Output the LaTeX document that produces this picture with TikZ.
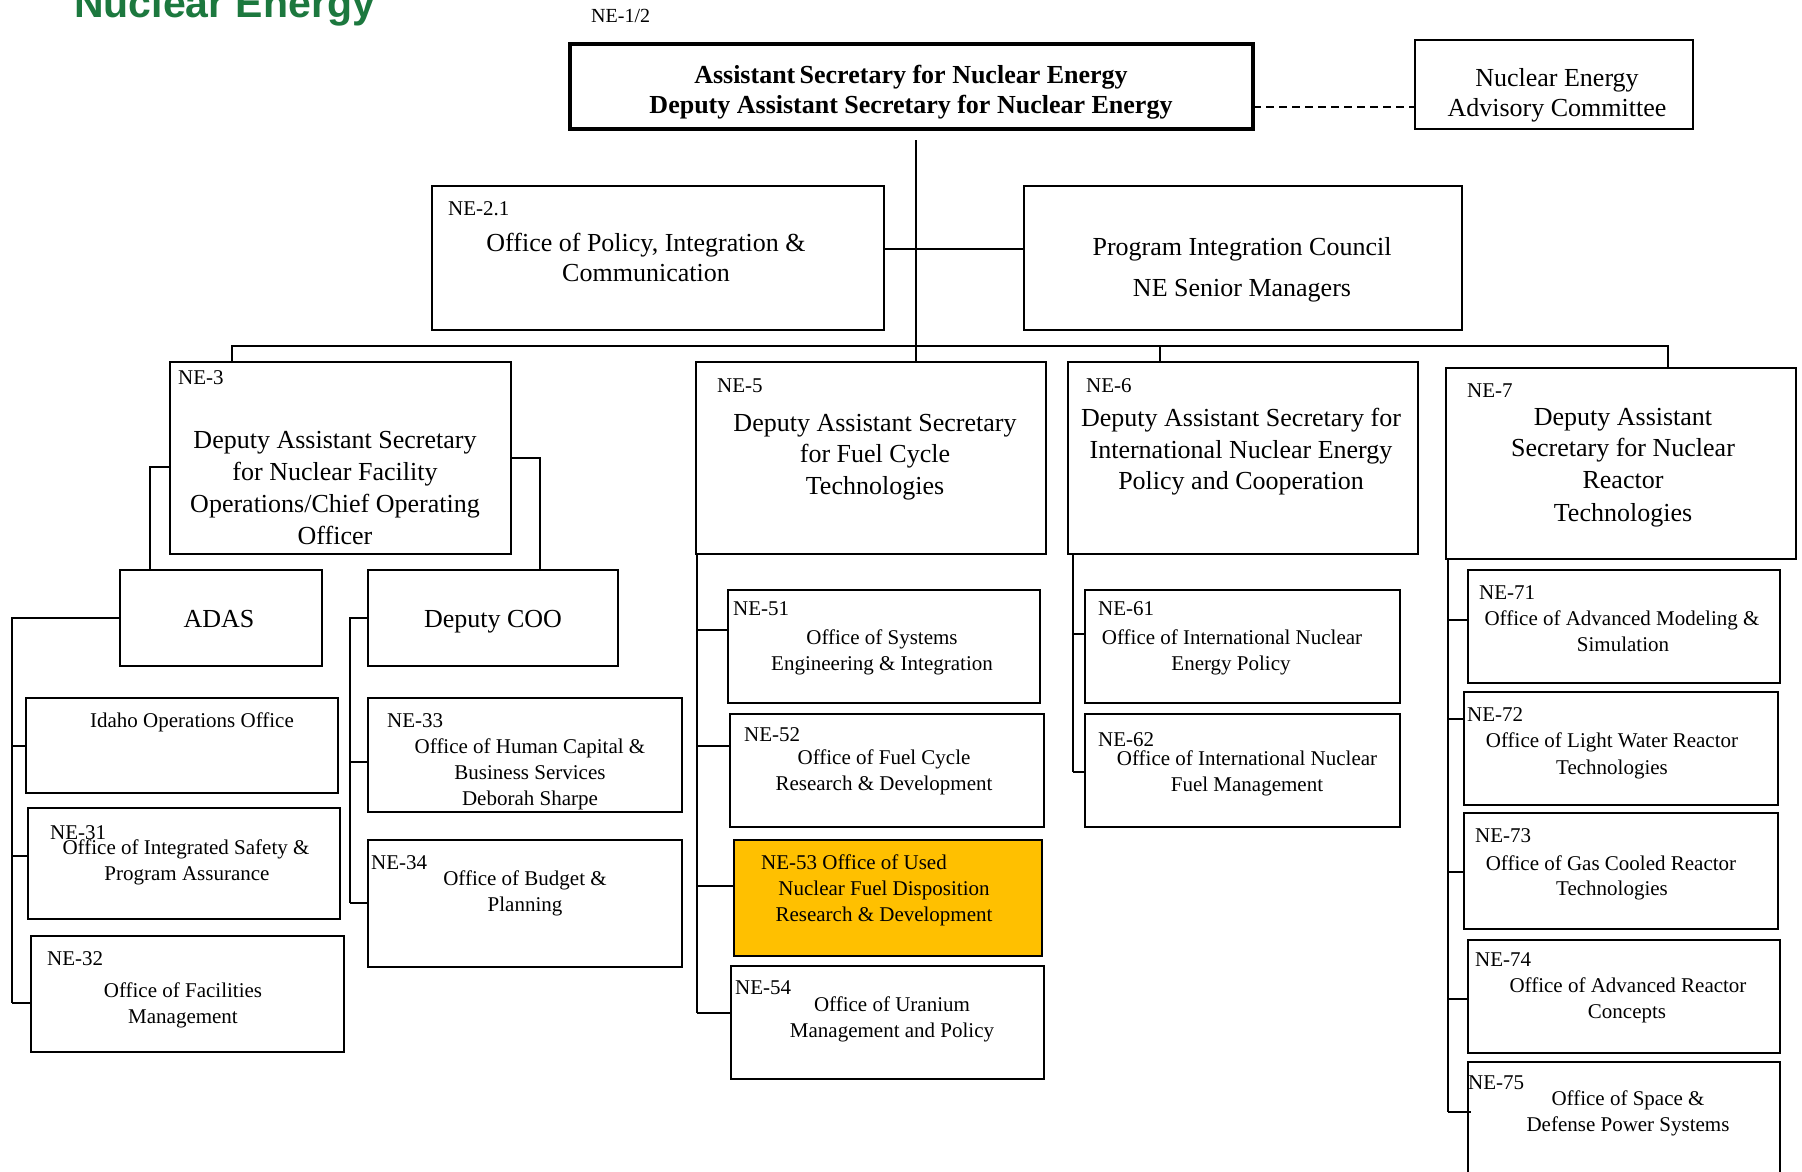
\documentclass[tikz,border=0pt]{standalone}
\usepackage{fontspec}
\setmainfont{Liberation Serif}
\newfontfamily\titlefont{Liberation Sans}
\definecolor{doegreen}{RGB}{28,120,62}
\definecolor{hilite}{RGB}{255,192,0}
\newcounter{tnum}
\newcommand\obox[6][]{\node[obx,#1,minimum width={(#5-#3)*1pt},minimum height={(#6-#4)*1pt}] (#2) at ({(#3+#5)/2},{(#4+#6)/2}) {};}
\newcommand\tcen[4][]{\stepcounter{tnum}\node[txt,#1,anchor=base] (t\arabic{tnum}) at (#2,#3) {#4};}
\newcommand\tlft[4][]{\stepcounter{tnum}\node[txt,#1,anchor=base west] (t\arabic{tnum}) at (#2,#3) {#4};}
\begin{document}
\begin{tikzpicture}[x=1pt,y=-1pt,
  obx/.style={draw,line width=2pt,inner sep=0pt,outer sep=0pt,fill=white},
  txt/.style={inner sep=0pt,font=\fontsize{21}{26}\selectfont},
  big/.style={font=\fontsize{26}{32}\selectfont},
  bigb/.style={font=\fontsize{26}{32}\selectfont\bfseries},
  conn/.style={line width=2pt},
  thinconn/.style={line width=1.4pt},
  dsh/.style={line width=2pt,dash pattern=on 8pt off 5pt}]
\useasboundingbox (0,0) rectangle (1802,1172);
\clip (0,0) rectangle (1802,1172);
\fill[white] (0,0) rectangle (1802,1172);

% title
\node[inner sep=0pt,anchor=base west,text=doegreen,font=\fontsize{41}{48}\titlefont\bfseries] (title) at (74,18) {Nuclear Energy};

% boxes
\obox[line width=4pt]{main}{570}{44}{1253}{129}
\obox{neac}{1415}{40}{1693}{129}
\obox{ne21}{432}{186}{884}{330}
\obox{pic}{1024}{186}{1462}{330}
\obox{ne3}{170}{362}{511}{554}
\obox{ne5}{696}{362}{1046}{554}
\obox{ne6}{1068}{362}{1418}{554}
\obox{ne7}{1446}{368}{1796}{559}
\obox{adas}{120}{570}{322}{666}
\obox{dcoo}{368}{570}{618}{666}
\obox{idaho}{26}{698}{338}{793}
\obox{ne31}{28}{808}{340}{919}
\obox{ne32}{31}{936}{344}{1052}
\obox{ne33}{368}{698}{682}{812}
\obox{ne34}{368}{840}{682}{967}
\obox{ne51}{728}{590}{1040}{703}
\obox{ne52}{730}{714}{1044}{827}
\obox[fill=hilite]{ne53}{734}{840}{1042}{956}
\obox{ne54}{731}{966}{1044}{1079}
\obox{ne61}{1085}{590}{1400}{703}
\obox{ne62}{1085}{714}{1400}{827}
\obox{ne71}{1468}{570}{1780}{683}
\obox{ne72}{1464}{692}{1778}{805}
\obox{ne73}{1464}{813}{1778}{929}
\obox{ne74}{1468}{940}{1780}{1053}
\obox{ne75}{1468}{1062}{1780}{1200}

% connectors: top
\coordinate (mt) at (916,140);
\draw[thinconn] (mt) -- (mt |- ne5.north);
\coordinate (hc) at (916,249);
\draw[conn] (hc -| ne21.east) -- (hc -| pic.west);
\coordinate (dc) at (1300,107);
\draw[dsh] (dc -| main.east) -- (dc -| neac.west);
\coordinate (bl) at (232,346);
\coordinate (br) at (1668,346);
\coordinate (b6) at (1160,346);
\draw[conn] (bl |- ne3.north) -- (bl) -- (br) -- (br |- ne7.north);
\draw[conn] (b6) -- (b6 |- ne6.north);

% NE-3 branches
\coordinate (a1) at (150,467);
\draw[conn] (a1 -| ne3.west) -| (adas.north -| a1);
\coordinate (a2) at (540,458);
\draw[conn] (a2 -| ne3.east) -| (dcoo.north -| a2);

% ADAS trunk
\coordinate (tA) at (12,1003);
\draw[conn] (adas.west) -| (tA);
\coordinate (sA1) at (12,746);
\draw[conn] (sA1) -- (sA1 -| idaho.west);
\coordinate (sA2) at (12,856);
\draw[conn] (sA2) -- (sA2 -| ne31.west);
\draw[conn] (tA) -- (tA -| ne32.west);

% Deputy COO trunk
\coordinate (tD) at (350,903);
\draw[conn] (dcoo.west) -| (tD);
\coordinate (sD1) at (350,762);
\draw[conn] (sD1) -- (sD1 -| ne33.west);
\draw[conn] (tD) -- (tD -| ne34.west);

% NE-5 trunk
\coordinate (t5) at (697,1013);
\draw[conn] (t5 |- ne5.south) -- (t5);
\coordinate (s51) at (697,630);
\draw[conn] (s51) -- (s51 -| ne51.west);
\coordinate (s52) at (697,746);
\draw[conn] (s52) -- (s52 -| ne52.west);
\coordinate (s53) at (697,886);
\draw[conn] (s53) -- (s53 -| ne53.west);
\draw[conn] (t5) -- (t5 -| ne54.west);

% NE-6 trunk
\coordinate (t6) at (1073,772);
\draw[conn] (t6 |- ne6.south) -- (t6);
\coordinate (s61) at (1073,634);
\draw[conn] (s61) -- (s61 -| ne61.west);
\draw[conn] (t6) -- (t6 -| ne62.west);

% NE-7 trunk
\coordinate (t7) at (1448,1112);
\draw[conn] (t7 |- ne7.south) -- (t7);
\coordinate (s71) at (1448,620);
\draw[conn] (s71) -- (s71 -| ne71.west);
\coordinate (s72) at (1448,719);
\draw[conn] (s72) -- (s72 -| ne72.west);
\coordinate (s73) at (1448,872);
\draw[conn] (s73) -- (s73 -| ne73.west);
\coordinate (s74) at (1448,999);
\draw[conn] (s74) -- (s74 -| ne74.west);
\draw[conn] (t7) -- ([xshift=3pt]t7 -| ne75.west);

% texts: top
\tlft[font=\fontsize{20}{24}\selectfont]{591}{23}{NE-1/2}
\tcen[bigb]{911}{84}{Assistant\,Secretary for Nuclear Energy}
\tcen[bigb]{911}{113}{Deputy Assistant Secretary for Nuclear Energy}
\tcen[big]{1557}{86}{Nuclear Energy}
\tcen[big]{1557}{117}{Advisory Committee}
\tlft{448}{215}{NE-2.1}
\tcen[big]{646}{251}{Office of Policy, Integration \&}
\tcen[big]{646}{281}{Communication}
\tcen[big]{1242}{255}{Program Integration Council}
\tcen[big]{1242}{296}{NE Senior Managers}

% NE-3 group
\tlft{178}{384}{NE-3}
\tcen[big]{335}{448}{Deputy Assistant Secretary}
\tcen[big]{335}{480}{for Nuclear Facility}
\tcen[big]{335}{512}{Operations/Chief Operating}
\tcen[big]{335}{544}{Officer}
\tcen[big]{219}{627}{ADAS}
\tcen[big]{493}{627}{Deputy COO}
\tcen{192}{727}{Idaho Operations Office}
\tlft{50}{839}{NE-31}
\tcen{186}{854}{Office of Integrated Safety \&}
\tcen{187}{880}{Program Assurance}
\tlft{47}{965}{NE-32}
\tcen{183}{997}{Office of Facilities}
\tcen{183}{1023}{Management}
\tlft{387}{727}{NE-33}
\tcen{530}{753}{Office of Human Capital \&}
\tcen{530}{779}{Business Services}
\tcen{530}{805}{Deborah Sharpe}
\tlft{371}{869}{NE-34}
\tcen{525}{885}{Office of Budget \&}
\tcen{525}{911}{Planning}

% NE-5 group
\tlft{717}{392}{NE-5}
\tcen[big]{875}{431}{Deputy Assistant Secretary}
\tcen[big]{875}{462}{for Fuel Cycle}
\tcen[big]{875}{494}{Technologies}
\tlft{733}{615}{NE-51}
\tcen{882}{644}{Office of Systems}
\tcen{882}{670}{Engineering \& Integration}
\tlft{744}{741}{NE-52}
\tcen{884}{764}{Office of Fuel Cycle}
\tcen{884}{790}{Research \& Development}
\tcen{854}{869}{NE-53 Office of Used}
\tcen{884}{895}{Nuclear Fuel Disposition}
\tcen{884}{921}{Research \& Development}
\tlft{735}{994}{NE-54}
\tcen{892}{1011}{Office of Uranium}
\tcen{892}{1037}{Management and Policy}

% NE-6 group
\tlft{1086}{392}{NE-6}
\tcen[big]{1241}{426}{Deputy Assistant Secretary for}
\tcen[big]{1241}{458}{International Nuclear Energy}
\tcen[big]{1241}{489}{Policy and Cooperation}
\tlft{1098}{615}{NE-61}
\tcen{1232}{644}{Office of International Nuclear}
\tcen{1231}{670}{Energy Policy}
\tlft{1098}{746}{NE-62}
\tcen{1247}{765}{Office of International Nuclear}
\tcen{1247}{791}{Fuel Management}

% NE-7 group
\tlft{1467}{397}{NE-7}
\tcen[big]{1623}{425}{Deputy Assistant}
\tcen[big]{1623}{456}{Secretary for Nuclear}
\tcen[big]{1623}{488}{Reactor}
\tcen[big]{1623}{521}{Technologies}
\tlft{1479}{599}{NE-71}
\tcen{1622}{625}{Office of Advanced Modeling \&}
\tcen{1623}{651}{Simulation}
\tlft{1467}{721}{NE-72}
\tcen{1612}{747}{Office of Light Water Reactor}
\tcen{1612}{774}{Technologies}
\tlft{1475}{842}{NE-73}
\tcen{1611}{870}{Office of Gas Cooled Reactor}
\tcen{1612}{895}{Technologies}
\tlft{1475}{966}{NE-74}
\tcen{1628}{992}{Office of Advanced Reactor}
\tcen{1627}{1018}{Concepts}
\tlft{1468}{1089}{NE-75}
\tcen{1628}{1105}{Office of Space \&}
\tcen{1628}{1131}{Defense Power Systems}
\end{tikzpicture}
\end{document}
